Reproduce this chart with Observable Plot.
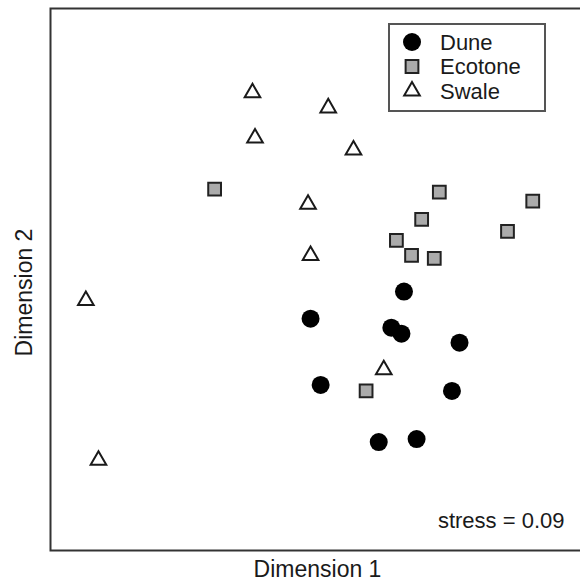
<!DOCTYPE html>
<html>
<head>
<meta charset="utf-8">
<script src="https://cdn.jsdelivr.net/npm/d3@7"></script>
<script src="https://cdn.jsdelivr.net/npm/@observablehq/plot@0.6"></script>
<style>
  html, body { margin: 0; padding: 0; background: white; overflow: hidden; }
  #wrap { position: relative; width: 580px; height: 582px; overflow: hidden; font-family: "Liberation Sans", Arial, sans-serif; }
  #legend { position: absolute; left: 388px; top: 23px; width: 154px; height: 85px; border: 2px solid #555; background: white; }
  #legend svg { position: absolute; left: 0; top: 0; }
</style>
</head>
<body>
<div id="wrap"></div>
<script>
// NMDS site scores
const groups = ["Dune", "Ecotone", "Swale"];

const duneX = [0.20, -0.17, 0.15, 0.19, 0.42, -0.13, 0.39, 0.10, 0.25];
const duneY = [-0.04, -0.13, -0.16, -0.18, -0.21, -0.35, -0.37, -0.54, -0.53];

const ecotoneX = [-0.55, 0.34, 0.71, 0.27, 0.61, 0.17, 0.23, 0.32, 0.05];
const ecotoneY = [0.30, 0.29, 0.26, 0.20, 0.16, 0.13, 0.08, 0.07, -0.37];

const swaleX = [-0.40, -0.10, -0.39, 0.00, -0.18, -0.17, -1.06, 0.12, -1.01];
const swaleY = [0.62, 0.57, 0.47, 0.43, 0.25, 0.08, -0.07, -0.30, -0.60];

const stressLabel = "stress = 0.09";
const xLabel = "Dimension 1";
const yLabel = "Dimension 2";

const toRows = (xs, ys, g) => xs.map((x, i) => ({x, y: ys[i], group: g}));
const dune = toRows(duneX, duneY, "Dune");
const ecotone = toRows(ecotoneX, ecotoneY, "Ecotone");
const swale = toRows(swaleX, swaleY, "Swale");

const styles = {
  Dune: {symbol: "circle", r: 9, fill: "black", stroke: "none", strokeWidth: 0},
  Ecotone: {symbol: "square", r: 7.2, fill: "#ababab", stroke: "#222", strokeWidth: 2},
  Swale: {symbol: "triangle", r: 5.8, fill: "white", stroke: "#1a1a1a", strokeWidth: 2}
};

const chart = Plot.plot({
  width: 580,
  height: 582,
  marginLeft: 50,
  marginRight: -4,
  marginTop: 8,
  marginBottom: 32,
  x: {domain: [-1.2, 0.915], axis: null},
  y: {domain: [-0.9, 0.9], axis: null},
  style: {fontFamily: "'Liberation Sans', Arial, sans-serif", background: "white", color: "#1a1a1a"},
  marks: [
    Plot.frame({stroke: "#333", strokeWidth: 2}),
    Plot.dot(swale, {x: "x", y: "y", ...styles.Swale}),
    Plot.dot(ecotone, {x: "x", y: "y", ...styles.Ecotone}),
    Plot.dot(dune, {x: "x", y: "y", ...styles.Dune}),
    Plot.text([stressLabel], {frameAnchor: "bottom-right", dx: -20, dy: -23, textAnchor: "end", fontSize: 22, fill: "#1a1a1a"}),
    Plot.text([xLabel], {frameAnchor: "bottom", dy: 26, fontSize: 23, fill: "#1a1a1a"}),
    Plot.text([yLabel], {frameAnchor: "left", dx: -26, dy: 13, textAnchor: "middle", rotate: -90, fontSize: 23, fill: "#1a1a1a"})
  ]
});

const wrap = document.getElementById("wrap");
wrap.appendChild(chart);

// Legend (inside the plot, top right)
const legend = document.createElement("div");
legend.id = "legend";
wrap.appendChild(legend);
const lsvg = d3.select(legend).append("svg").attr("width", 154).attr("height", 85);
const symMap = {circle: d3.symbolCircle, square: d3.symbolSquare, triangle: d3.symbolTriangle};
groups.forEach((g, i) => {
  const s = styles[g];
  const cy = 17 + i * 24.5;
  lsvg.append("path")
    .attr("transform", `translate(22,${cy})`)
    .attr("d", d3.symbol(symMap[s.symbol], Math.PI * s.r * s.r)())
    .attr("fill", s.fill)
    .attr("stroke", s.stroke)
    .attr("stroke-width", s.strokeWidth);
  lsvg.append("text")
    .attr("x", 50).attr("y", cy)
    .attr("dy", "0.35em")
    .attr("font-size", 22)
    .attr("fill", "#1a1a1a")
    .text(g);
});
</script>
</body>
</html>
